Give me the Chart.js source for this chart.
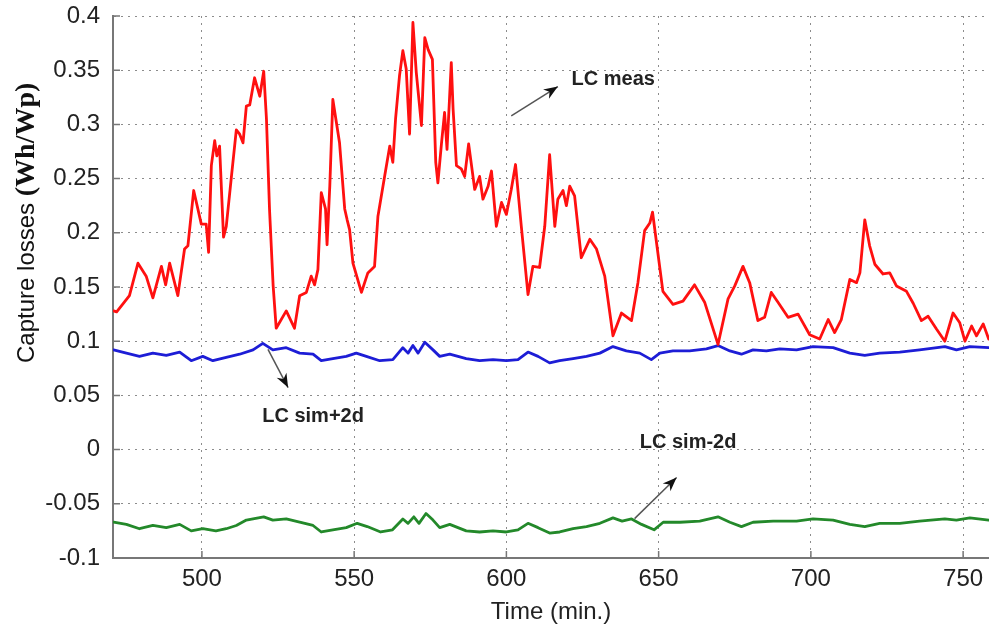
<!DOCTYPE html>
<html>
<head>
<meta charset="utf-8">
<title>Capture losses</title>
<script src="https://cdn.jsdelivr.net/npm/chart.js@4/dist/chart.umd.min.js"></script>
<style>
    html, body { margin: 0; padding: 0; background: #fff; }
    #wrap { width: 989px; height: 632px; }
</style>
</head>
<body>
<div id="wrap"><canvas id="lossChart"></canvas></div>
<script>
// Values (time in minutes, losses in Wh/Wp)
const measTime = [471, 472, 476.2, 479, 481.7, 483.9, 486.7, 488.1, 489.4, 492.1, 494.3, 495.4, 497.3, 499.8, 501.4, 502.2, 503.1, 504.2, 504.9, 505.8,
    507.1, 508, 509.7, 511.3, 512.4, 513.5, 514.6, 515.7, 517.3, 519, 520.3, 521.2, 522.2, 523.4, 524.4, 527.7, 530.4, 532.1, 534.3, 535.9,
    537, 538.1, 539.2, 540.6, 541.1, 542, 543, 545.2, 546.9, 547.7, 548.5, 549.6, 552.4, 554.5, 556.7, 557.8, 560, 561.7, 562.7, 563.6,
    564.9, 566, 567.1, 568.2, 569.3, 570.4, 572.1, 573.2, 574.3, 575.7, 576.8, 577.5, 578.7, 579.7, 580.5, 581.9, 582.5, 583.6, 585.2, 586.3,
    587.6, 589.6, 591.2, 592.3, 594, 595.1, 596.7, 598.4, 600, 601.6, 603, 604.9, 607.1, 608.7, 610.9, 612.6, 614.2, 615.9, 616.9, 618.6,
    619.7, 620.8, 622.4, 624.6, 627.4, 629.6, 632.3, 635, 637.8, 641.1, 643.2, 645.4, 647.1, 648, 649.3, 651.4, 654.7, 658, 661.8, 665.1,
    669.5, 672.8, 675, 677.7, 679.9, 682.6, 684.8, 687, 689.2, 692.5, 695.8, 699.6, 702.9, 705.7, 707.8, 710, 712.8, 715, 716.1, 717.7,
    719.3, 721, 723.7, 725.9, 728.1, 731.4, 733.6, 736.3, 738.5, 741.3, 744, 746.7, 748.9, 750.6, 752.8, 754.4, 756.6, 758.4];
const measLoss = [0.128, 0.127, 0.142, 0.172, 0.160, 0.140, 0.169, 0.152, 0.172, 0.142, 0.185, 0.188, 0.239, 0.208, 0.208, 0.182, 0.262, 0.285, 0.271, 0.280,
    0.196, 0.206, 0.252, 0.295, 0.291, 0.283, 0.317, 0.318, 0.343, 0.326, 0.349, 0.305, 0.222, 0.151, 0.112, 0.128, 0.112, 0.142, 0.145, 0.160,
    0.152, 0.166, 0.237, 0.222, 0.189, 0.243, 0.323, 0.283, 0.222, 0.212, 0.203, 0.172, 0.145, 0.163, 0.169, 0.215, 0.252, 0.280, 0.265, 0.305,
    0.345, 0.368, 0.351, 0.291, 0.394, 0.348, 0.299, 0.380, 0.369, 0.360, 0.265, 0.246, 0.283, 0.311, 0.277, 0.357, 0.314, 0.262, 0.259, 0.252,
    0.282, 0.240, 0.252, 0.231, 0.243, 0.257, 0.206, 0.228, 0.217, 0.240, 0.263, 0.206, 0.143, 0.169, 0.168, 0.206, 0.272, 0.206, 0.231, 0.239,
    0.225, 0.243, 0.234, 0.177, 0.194, 0.185, 0.160, 0.105, 0.126, 0.119, 0.154, 0.202, 0.209, 0.219, 0.191, 0.146, 0.134, 0.137, 0.152, 0.136,
    0.097, 0.139, 0.151, 0.169, 0.154, 0.119, 0.122, 0.145, 0.136, 0.122, 0.125, 0.106, 0.102, 0.120, 0.108, 0.120, 0.157, 0.154, 0.163, 0.212,
    0.188, 0.171, 0.162, 0.163, 0.151, 0.146, 0.135, 0.119, 0.123, 0.111, 0.100, 0.126, 0.117, 0.100, 0.114, 0.105, 0.116, 0.102];

const simPlusTime = [471, 475.2, 479.5, 483.9, 488.3, 492.7, 496.5, 500.3, 503.6, 508, 512.4, 516.8, 520, 523.3, 527.7, 532.1, 536.5, 539.2, 543, 547.4,
    550.7, 554, 558.4, 562.7, 566, 567.7, 569.3, 571, 573.2, 575.9, 578.1, 581.4, 586.8, 591.2, 595.6, 600, 603.8, 607.1, 610.4, 614.2,
    617.5, 621.9, 626.3, 630.7, 635, 639.4, 643.8, 647.6, 650.4, 654.7, 660.2, 665.7, 669.5, 673.4, 677.2, 681, 685.4, 689.8, 695.3, 700.7,
    707.3, 712.8, 717.7, 722.6, 729.2, 735.7, 744, 747.8, 752.2, 758.4];
const simPlusLoss = [0.092, 0.089, 0.086, 0.089, 0.087, 0.090, 0.082, 0.086, 0.082, 0.085, 0.088, 0.092, 0.098, 0.092, 0.094, 0.089, 0.088, 0.082, 0.084, 0.086,
    0.089, 0.086, 0.082, 0.083, 0.094, 0.089, 0.096, 0.089, 0.099, 0.092, 0.086, 0.088, 0.084, 0.082, 0.083, 0.082, 0.083, 0.090, 0.086, 0.080,
    0.082, 0.084, 0.086, 0.089, 0.095, 0.091, 0.089, 0.083, 0.089, 0.091, 0.091, 0.093, 0.096, 0.091, 0.088, 0.092, 0.091, 0.093, 0.092, 0.095,
    0.094, 0.089, 0.087, 0.089, 0.090, 0.092, 0.095, 0.092, 0.095, 0.094];

const simMinusTime = [471, 475.2, 479.5, 483.9, 488.3, 492.7, 496.5, 500.3, 504.6, 508, 511.3, 514.6, 520.3, 523.3, 527.7, 532.1, 536.5, 539.2, 543, 547.4,
    551, 554.3, 558.7, 562.6, 566, 567.7, 569.6, 571.3, 573.6, 575.9, 578.1, 581.4, 586.8, 591.2, 595.6, 600, 603.8, 607.1, 610.4, 614.2,
    617.5, 621.9, 626.3, 630.7, 635, 638, 641.1, 644.4, 648.5, 651.5, 657, 663.5, 669.5, 673.4, 677.2, 681, 687.6, 695.3, 700.7, 707.3,
    712.8, 717.7, 722.6, 729.2, 735.7, 744, 747.8, 752.2, 758.4];
const simMinusLoss = [-0.067, -0.069, -0.073, -0.070, -0.072, -0.069, -0.075, -0.073, -0.075, -0.073, -0.070, -0.065, -0.062, -0.065, -0.064, -0.067, -0.070, -0.076, -0.074, -0.072,
    -0.068, -0.071, -0.076, -0.074, -0.064, -0.068, -0.062, -0.068, -0.059, -0.065, -0.072, -0.069, -0.075, -0.076, -0.075, -0.076, -0.074, -0.068, -0.072, -0.077,
    -0.076, -0.073, -0.071, -0.068, -0.063, -0.066, -0.064, -0.069, -0.074, -0.067, -0.067, -0.066, -0.062, -0.067, -0.071, -0.067, -0.066, -0.066, -0.064, -0.065,
    -0.069, -0.071, -0.068, -0.068, -0.066, -0.064, -0.065, -0.063, -0.065];

const xTicks = [500, 550, 600, 650, 700, 750];
const yTicks = [-0.1, -0.05, 0, 0.05, 0.1, 0.15, 0.2, 0.25, 0.3, 0.35, 0.4];

// Curve labels with their arrows, in data units
const noteText = ['LC meas', 'LC sim+2d', 'LC sim-2d'];
const noteAt = [[621.4, 0.3416], [519.8, 0.0310], [643.8, 0.0065]];
const arrowFrom = [[601.6, 0.3078], [521.7, 0.0925], [642.1, -0.0637]];
const arrowTo = [[616.9, 0.3349], [528.3, 0.0572], [655.9, -0.0258]];

const SANS = '"Liberation Sans", Arial, sans-serif';

function toPoints(xs, ys) {
    return xs.map((x, i) => ({ x: x, y: ys[i] }));
}

function drawArrow(ctx, x1, y1, x2, y2) {
    ctx.strokeStyle = '#555';
    ctx.lineWidth = 1.5;
    ctx.beginPath();
    ctx.moveTo(x1, y1);
    ctx.lineTo(x2, y2);
    ctx.stroke();

    const ang = Math.atan2(y2 - y1, x2 - x1);
    const len = 14, half = 5.5;
    const bx = x2 - len * Math.cos(ang);
    const by = y2 - len * Math.sin(ang);
    const nx = x2 - len * 0.7 * Math.cos(ang);
    const ny = y2 - len * 0.7 * Math.sin(ang);
    ctx.fillStyle = '#111';
    ctx.beginPath();
    ctx.moveTo(x2, y2);
    ctx.lineTo(bx - half * Math.sin(ang), by + half * Math.cos(ang));
    ctx.lineTo(nx, ny);
    ctx.lineTo(bx + half * Math.sin(ang), by - half * Math.cos(ang));
    ctx.closePath();
    ctx.fill();
}

// Inner tick marks, curve labels and the mixed-font y title
const decorations = {
    id: 'decorations',
    afterDraw(chart) {
        const { ctx, chartArea: area, scales: { x, y } } = chart;
        ctx.save();

        ctx.strokeStyle = '#777';
        ctx.lineWidth = 1.5;
        ctx.beginPath();
        yTicks.forEach(v => {
            const py = y.getPixelForValue(v);
            ctx.moveTo(area.left, py);
            ctx.lineTo(area.left + 7, py);
        });
        xTicks.forEach(v => {
            const px = x.getPixelForValue(v);
            ctx.moveTo(px, area.bottom);
            ctx.lineTo(px, area.bottom - 7);
        });
        ctx.stroke();

        noteText.forEach((txt, i) => {
            drawArrow(ctx,
                x.getPixelForValue(arrowFrom[i][0]), y.getPixelForValue(arrowFrom[i][1]),
                x.getPixelForValue(arrowTo[i][0]), y.getPixelForValue(arrowTo[i][1]));
            ctx.fillStyle = '#222';
            ctx.font = 'bold 20px ' + SANS;
            ctx.textAlign = 'left';
            ctx.textBaseline = 'middle';
            ctx.fillText(txt, x.getPixelForValue(noteAt[i][0]), y.getPixelForValue(noteAt[i][1]));
        });

        ctx.translate(27, area.bottom - 195);
        ctx.rotate(-Math.PI / 2);
        ctx.textAlign = 'left';
        ctx.textBaseline = 'middle';
        ctx.fillStyle = '#111';
        ctx.font = '24px ' + SANS;
        const head = 'Capture losses ';
        ctx.fillText(head, 0, 0);
        const w = ctx.measureText(head).width;
        ctx.font = 'bold 28px "Liberation Serif", "Times New Roman", serif';
        ctx.fillText('(Wh/Wp)', w, 0);

        ctx.restore();
    }
};

const lineStyle = { borderWidth: 2.8, borderJoinStyle: 'round', borderCapStyle: 'round', pointRadius: 0, tension: 0, fill: false };

new Chart(document.getElementById('lossChart').getContext('2d'), {
    type: 'line',
    data: {
        datasets: [
            { label: 'LC meas', data: toPoints(measTime, measLoss), borderColor: '#ff1010', ...lineStyle },
            { label: 'LC sim+2d', data: toPoints(simPlusTime, simPlusLoss), borderColor: '#1d1dd6', ...lineStyle },
            { label: 'LC sim-2d', data: toPoints(simMinusTime, simMinusLoss), borderColor: '#23892a', ...lineStyle }
        ]
    },
    options: {
        responsive: true,
        maintainAspectRatio: false,
        animation: false,
        layout: { padding: { top: 16, right: 0, bottom: 0, left: 0 } },
        plugins: {
            legend: { display: false },
            tooltip: { enabled: false }
        },
        scales: {
            x: {
                type: 'linear',
                min: 470.8,
                max: 758.5,
                afterBuildTicks: axis => { axis.ticks = xTicks.map(v => ({ value: v })); },
                afterFit: axis => { axis.height = 74; axis.paddingLeft = 0; axis.paddingRight = 0; },
                ticks: {
                    font: { family: SANS, size: 24 },
                    color: '#222',
                    padding: 7,
                    maxRotation: 0,
                    callback: v => String(v)
                },
                grid: { color: '#8c8c8c', lineWidth: 1, drawTicks: false },
                border: { display: true, color: '#777', width: 2, dash: [2, 5] },
                title: {
                    display: true,
                    text: 'Time (min.)',
                    font: { family: SANS, size: 24 },
                    color: '#222',
                    padding: { top: 0, bottom: 5 }
                }
            },
            y: {
                min: -0.1,
                max: 0.4,
                afterBuildTicks: axis => { axis.ticks = yTicks.map(v => ({ value: v })); },
                afterFit: axis => { axis.width = 113; axis.paddingTop = 0; axis.paddingBottom = 0; },
                ticks: {
                    font: { family: SANS, size: 24 },
                    color: '#222',
                    padding: 13,
                    callback: v => String(Number(v.toFixed(2)))
                },
                grid: { color: '#8c8c8c', lineWidth: 1, drawTicks: false },
                border: { display: true, color: '#777', width: 2, dash: [2, 5] }
            }
        }
    },
    plugins: [decorations]
});
</script>
</body>
</html>
